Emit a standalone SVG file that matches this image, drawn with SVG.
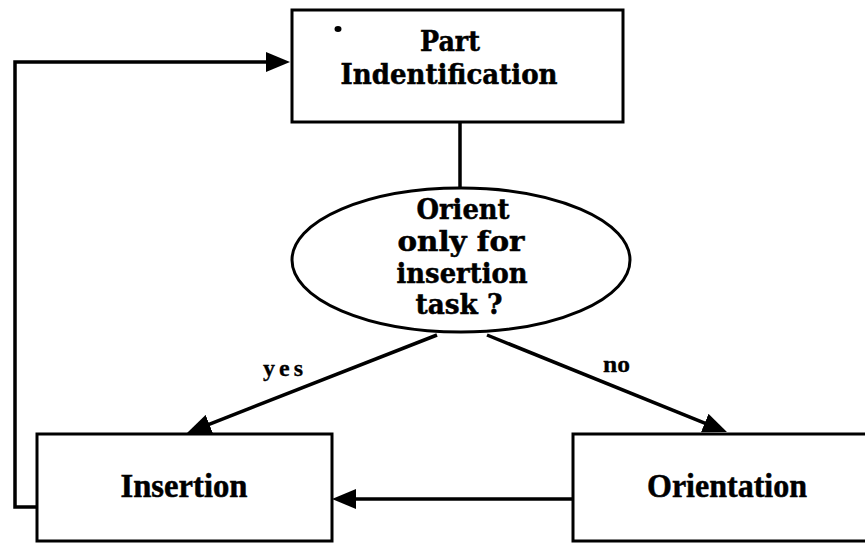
<svg xmlns="http://www.w3.org/2000/svg" width="865" height="544" viewBox="0 0 865 544">
<style>
.box{fill:#fff;stroke:#000;stroke-width:3}
.conn{fill:none;stroke:#000;stroke-width:3.5}
.t1{font-family:"DejaVu Serif",serif;font-weight:bold;font-size:27px;fill:#000;stroke:#000;stroke-width:0.5;text-anchor:middle}
.t2{font-family:"Liberation Serif",serif;font-weight:bold;font-size:33px;fill:#000;stroke:#000;stroke-width:0.5;text-anchor:middle}
.lbl{font-family:"Liberation Serif",serif;font-weight:bold;font-size:24px;fill:#000;stroke:#000;stroke-width:0.3}
</style>
<defs>
<marker id="ah" viewBox="0 0 24 20" refX="14" refY="10" markerWidth="24" markerHeight="20" markerUnits="userSpaceOnUse" orient="auto">
<path d="M0,0 L24,10 L0,20 z" fill="#000"/>
</marker>
</defs>
<rect width="865" height="544" fill="#fff"/>
<g id="connectors">
<path class="conn" d="M460,122 V188"/>
<path class="conn" d="M437,335 L196.3,429.3" marker-end="url(#ah)"/>
<path class="conn" d="M487,335 L717.7,428.3" marker-end="url(#ah)"/>
<path class="conn" d="M573,499 H342" marker-end="url(#ah)"/>
<path class="conn" d="M37,507 H15 V62 H280" marker-end="url(#ah)"/>
<text class="lbl" x="263" y="376" textLength="40" lengthAdjust="spacing">yes</text>
<text class="lbl" x="603" y="372" textLength="27" lengthAdjust="spacingAndGlyphs">no</text>
</g>
<g id="part-identification">
<rect class="box" x="292" y="10" width="331" height="112"/>
<ellipse cx="338" cy="29" rx="3.5" ry="3" fill="#000"/>
<text class="t1" x="450" y="51" textLength="60" lengthAdjust="spacingAndGlyphs">Part</text>
<text class="t1" x="449" y="84" textLength="217" lengthAdjust="spacingAndGlyphs">Indentification</text>
</g>
<g id="decision">
<ellipse class="box" cx="461" cy="260" rx="169" ry="72"/>
<text class="t1" x="463" y="219" font-size="28" textLength="93" lengthAdjust="spacingAndGlyphs">Orient</text>
<text class="t1" x="461" y="251" font-size="28" textLength="127" lengthAdjust="spacingAndGlyphs">only  for</text>
<text class="t1" x="462" y="283" font-size="28" textLength="131" lengthAdjust="spacingAndGlyphs">insertion</text>
<text class="t1" x="459" y="314" font-size="28" textLength="87" lengthAdjust="spacingAndGlyphs">task ?</text>
</g>
<g id="insertion">
<rect class="box" x="37" y="434" width="295" height="107"/>
<text class="t2" x="184" y="497" textLength="127" lengthAdjust="spacingAndGlyphs">Insertion</text>
</g>
<g id="orientation">
<rect class="box" x="573" y="434" width="300" height="107"/>
<text class="t2" x="727" y="497" textLength="160" lengthAdjust="spacingAndGlyphs">Orientation</text>
</g>
</svg>
